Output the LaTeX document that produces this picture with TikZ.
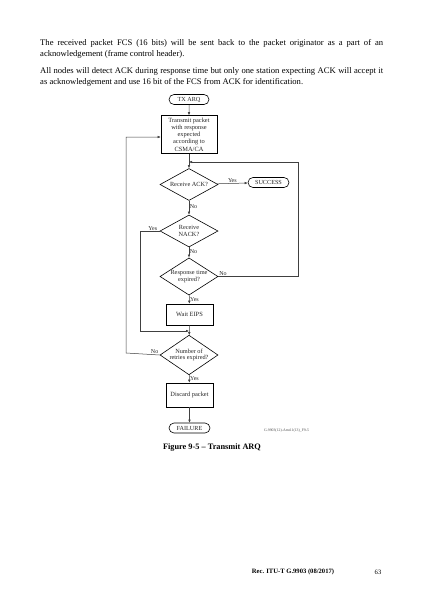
\documentclass[tikz,border=0pt]{standalone}
\usepackage{fontspec}
\setmainfont{Liberation Serif}
\usetikzlibrary{shapes.geometric,shapes.misc,arrows.meta}
\begin{document}
\begin{tikzpicture}[x=1pt,y=-1pt,
  flow/.style={line width=0.5pt,draw=black!75},
  arr/.style={flow,-{Latex[length=3pt,width=2.6pt]}},
  proc/.style={draw,line width=0.6pt,rectangle,inner sep=1pt,align=center,font=\fontsize{6.4}{7.3}\selectfont,text=black!85},
  term/.style={draw,line width=0.6pt,rounded rectangle,minimum height=10pt,inner sep=1pt,align=center,font=\fontsize{6.2}{7}\selectfont,text=black!85},
  dec/.style={draw,line width=0.6pt,diamond,inner sep=-3pt,minimum width=58pt,minimum height=32pt,align=center,font=\fontsize{6.3}{6.8}\selectfont,text=black!85},
  lab/.style={font=\fontsize{6}{6.5}\selectfont,text=black!85,inner sep=0.5pt}
]
\useasboundingbox (0,0) rectangle (424,600);
\fill[white] (0,0) rectangle (424,600);

\node[anchor=north west,text width=343pt,align=justify,inner sep=0pt,font=\fontsize{8.6}{11}\selectfont] (para) at (40,39)
 {\hyphenpenalty=10000\exhyphenpenalty=10000\setlength{\parskip}{6pt}The received packet FCS (16 bits) will be sent back to the packet originator as a part of an acknowledgement (frame control header).\par
 All nodes will detect ACK during response time but only one station expecting ACK will accept it as acknowledgement and use 16 bit of the FCS from ACK for identification.};

\node[term,minimum width=42pt] (tx) at (189,99.5) {TX ARQ};
\node[proc,minimum width=56pt,minimum height=38pt] (tp) at (189,134.5) {Transmit packet\\with response\\expected\\according to\\CSMA/CA};
\node[dec] (ack) at (189,184.5) {Receive ACK?};
\node[term,minimum width=43pt] (succ) at (268.5,182.5) {SUCCESS};
\node[dec] (nack) at (189,231) {Receive\\NACK?};
\node[dec] (rte) at (189,276.5) {Response time\\expired?};
\node[proc,minimum width=47pt,minimum height=21pt] (wait) at (189.5,314.5) {Wait EIPS};
\node[dec] (ret) at (189,355) {Number of\\retries expired?};
\node[proc,minimum width=47pt,minimum height=24pt] (disc) at (189.5,395) {Discard packet};
\node[term,minimum width=43pt] (fail) at (189.5,428) {FAILURE};

\coordinate (m1) at (189,162);
\coordinate (m2) at (189,331);
\coordinate (r1) at (298,276.5);
\coordinate (r2) at (298,162);
\coordinate (l1) at (140,231);
\coordinate (l2) at (140,331);
\coordinate (k1) at (126,353);
\coordinate (k2) at (126,137);

\draw[arr] (tx) -- (tp);
\draw[arr] (tp) -- (ack);
\draw[arr] (ack) -- node[lab,above,pos=0.5] {Yes} (succ);
\draw[arr] (ack) -- node[lab,right,pos=0.45] {No} (nack);
\draw[arr] (nack) -- node[lab,right,pos=0.45] {No} (rte);
\draw[arr] (rte) -- node[lab,right,pos=0.5] {Yes} (wait);
\draw[arr] (wait) -- (ret);
\draw[arr] (ret) -- node[lab,right,pos=0.45] {Yes} (disc);
\draw[arr] (disc) -- (fail);
\draw[arr] (rte.east) -- node[lab,above,pos=0.06] {No} (r1) -- (r2) -- (m1);
\draw[arr] (nack.west) -- node[lab,above,pos=0.35] {Yes} (l1) -- (l2) -- (m2);
\draw[arr] (ret.west) -- node[lab,above,pos=0.15] {No} (k1) -- (k2) -- (tp.west |- k2);

\node[font=\fontsize{3.8}{4}\selectfont,text=black!70,anchor=west,inner sep=0pt] (id) at (264,431) {G.9903(12)-Amd.1(13)\_F9-5};
\node[font=\fontsize{8.3}{9}\selectfont\bfseries,inner sep=0pt] (cap) at (212,448) {Figure 9-5 -- Transmit ARQ};
\node[font=\fontsize{6.6}{8}\selectfont\bfseries,inner sep=0pt] (foot) at (293,572) {Rec. ITU-T G.9903 (08/2017)};
\node[font=\fontsize{6.6}{8}\selectfont,inner sep=0pt] (pg) at (378,572) {63};
\end{tikzpicture}
\end{document}
